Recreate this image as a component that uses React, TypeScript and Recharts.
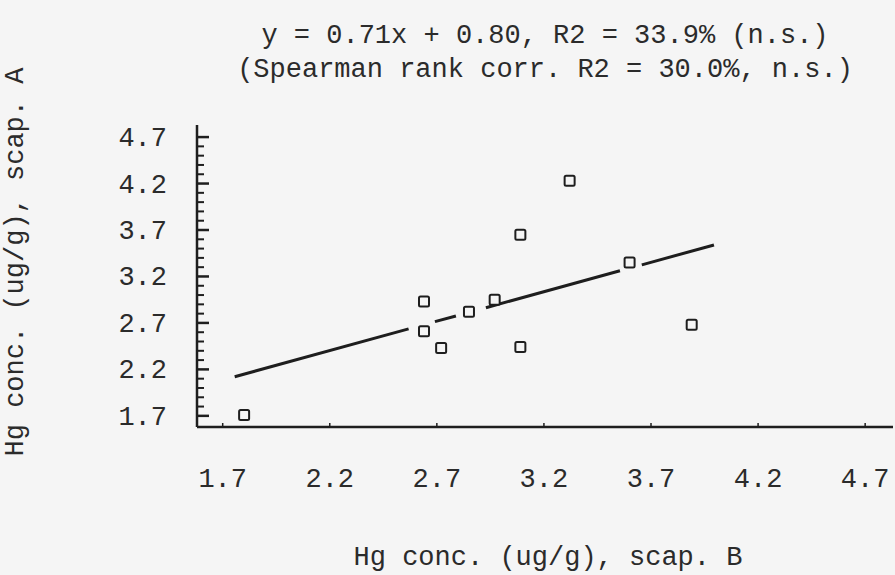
import React from 'react';
import { ScatterChart, Scatter, XAxis, YAxis } from 'recharts';

// text
const titleLines = [
  'y = 0.71x + 0.80, R2 = 33.9% (n.s.)',
  '(Spearman rank corr. R2 = 30.0%, n.s.)',
];
const xAxisTitle = 'Hg conc. (ug/g), scap. B';
const yAxisTitle = 'Hg conc. (ug/g), scap. A';

// axes
const xTicks = [1.7, 2.2, 2.7, 3.2, 3.7, 4.2, 4.7];
const yTicks = [
  1.7, 1.8, 1.9, 2.0, 2.1, 2.2, 2.3, 2.4, 2.5, 2.6, 2.7, 2.8, 2.9, 3.0, 3.1,
  3.2, 3.3, 3.4, 3.5, 3.6, 3.7, 3.8, 3.9, 4.0, 4.1, 4.2, 4.3, 4.4, 4.5, 4.6, 4.7,
];

// samples: scap. B (x) vs scap. A (y)
const scapB = [1.8, 2.64, 2.64, 2.72, 2.85, 2.97, 3.09, 3.09, 3.32, 3.6, 3.89];
const scapA = [1.71, 2.93, 2.61, 2.43, 2.82, 2.95, 3.65, 2.44, 4.23, 3.35, 2.68];

// regression line, drawn in pieces (broken around the markers)
const fitB = [
  [1.756, 2.568],
  [2.691, 2.789],
  [2.929, 3.555],
  [3.657, 3.994],
];
const fitA = [
  [2.121, 2.636],
  [2.714, 2.775],
  [2.864, 3.261],
  [3.325, 3.539],
];

const ink = '#1e1e1e';
const bg = '#f5f5f5';
const font = "'Liberation Mono', 'Courier New', monospace";
const fontSize = 27;

const points = scapB.map((x, i) => ({ x, y: scapA[i] }));
const fitSegments = fitB.map((seg, i) => seg.map((x, j) => ({ x, y: fitA[i][j] })));

const XTick = (props: any) => {
  const { x, y, payload } = props;
  return (
    <g>
      <line x1={x} x2={x} y1={y} y2={y - 4} stroke={ink} strokeWidth={1.5} />
      <text x={x} y={y + 60} textAnchor='middle' fontFamily={font} fontSize={fontSize} fill='#2b2b2b'>
        {Number(payload.value).toFixed(1)}
      </text>
    </g>
  );
};

const YTick = (props: any) => {
  const { x, y, payload } = props;
  const v = Number(payload.value);
  const major = Math.round(v * 10) % 5 === 2;
  return (
    <g>
      <line x1={x} x2={x + (major ? 12 : 7)} y1={y} y2={y} stroke={ink} strokeWidth={major ? 2.5 : 2} />
      {major && (
        <text x={x - 30} y={y + 9} textAnchor='end' fontFamily={font} fontSize={fontSize} fill='#2b2b2b'>
          {v.toFixed(1)}
        </text>
      )}
    </g>
  );
};

const SquareMark = (props: any) => {
  const { cx, cy } = props;
  return (
    <rect x={cx - 5} y={cy - 5} width={10} height={10} rx={1.5} fill={bg} stroke={ink} strokeWidth={2} />
  );
};

const NoMark = () => <g />;

const App: React.FC = () => {
  return (
    <div style={{ position: 'absolute', left: 0, top: 0, width: 895, height: 575, background: bg }}>
      <ScatterChart
        width={895}
        height={575}
        margin={{ top: 125, right: 2, bottom: 118, left: 157 }}
      >
        <XAxis
          type='number'
          dataKey='x'
          domain={[1.58, 4.83]}
          ticks={xTicks}
          interval={0}
          allowDataOverflow
          height={30}
          tickSize={0}
          tickMargin={0}
          tickLine={false}
          axisLine={{ stroke: ink, strokeWidth: 2.5 }}
          tick={(p: any) => <XTick {...p} />}
        />
        <YAxis
          type='number'
          dataKey='y'
          domain={[1.58, 4.83]}
          ticks={yTicks}
          interval={0}
          allowDataOverflow
          width={40}
          tickSize={0}
          tickMargin={0}
          tickLine={false}
          axisLine={{ stroke: ink, strokeWidth: 2.5 }}
          tick={(p: any) => <YTick {...p} />}
        />
        {fitSegments.map((seg, i) => (
          <Scatter
            key={i}
            data={seg}
            line={{ stroke: ink, strokeWidth: 3 }}
            shape={NoMark}
            isAnimationActive={false}
          />
        ))}
        <Scatter data={points} shape={SquareMark} isAnimationActive={false} />
      </ScatterChart>
      <svg
        width={895}
        height={575}
        style={{ position: 'absolute', left: 0, top: 0, pointerEvents: 'none' }}
      >
        {titleLines.map((t, i) => (
          <text key={i} x={545} y={43 + i * 34} textAnchor='middle' fontFamily={font} fontSize={fontSize} fill='#2b2b2b'>
            {t}
          </text>
        ))}
        <text x={548} y={565} textAnchor='middle' fontFamily={font} fontSize={fontSize} fill='#2b2b2b'>
          {xAxisTitle}
        </text>
        <text
          transform='translate(23,262) rotate(-90)'
          textAnchor='middle'
          fontFamily={font}
          fontSize={fontSize}
          fill='#2b2b2b'
        >
          {yAxisTitle}
        </text>
      </svg>
    </div>
  );
};

export default App;
